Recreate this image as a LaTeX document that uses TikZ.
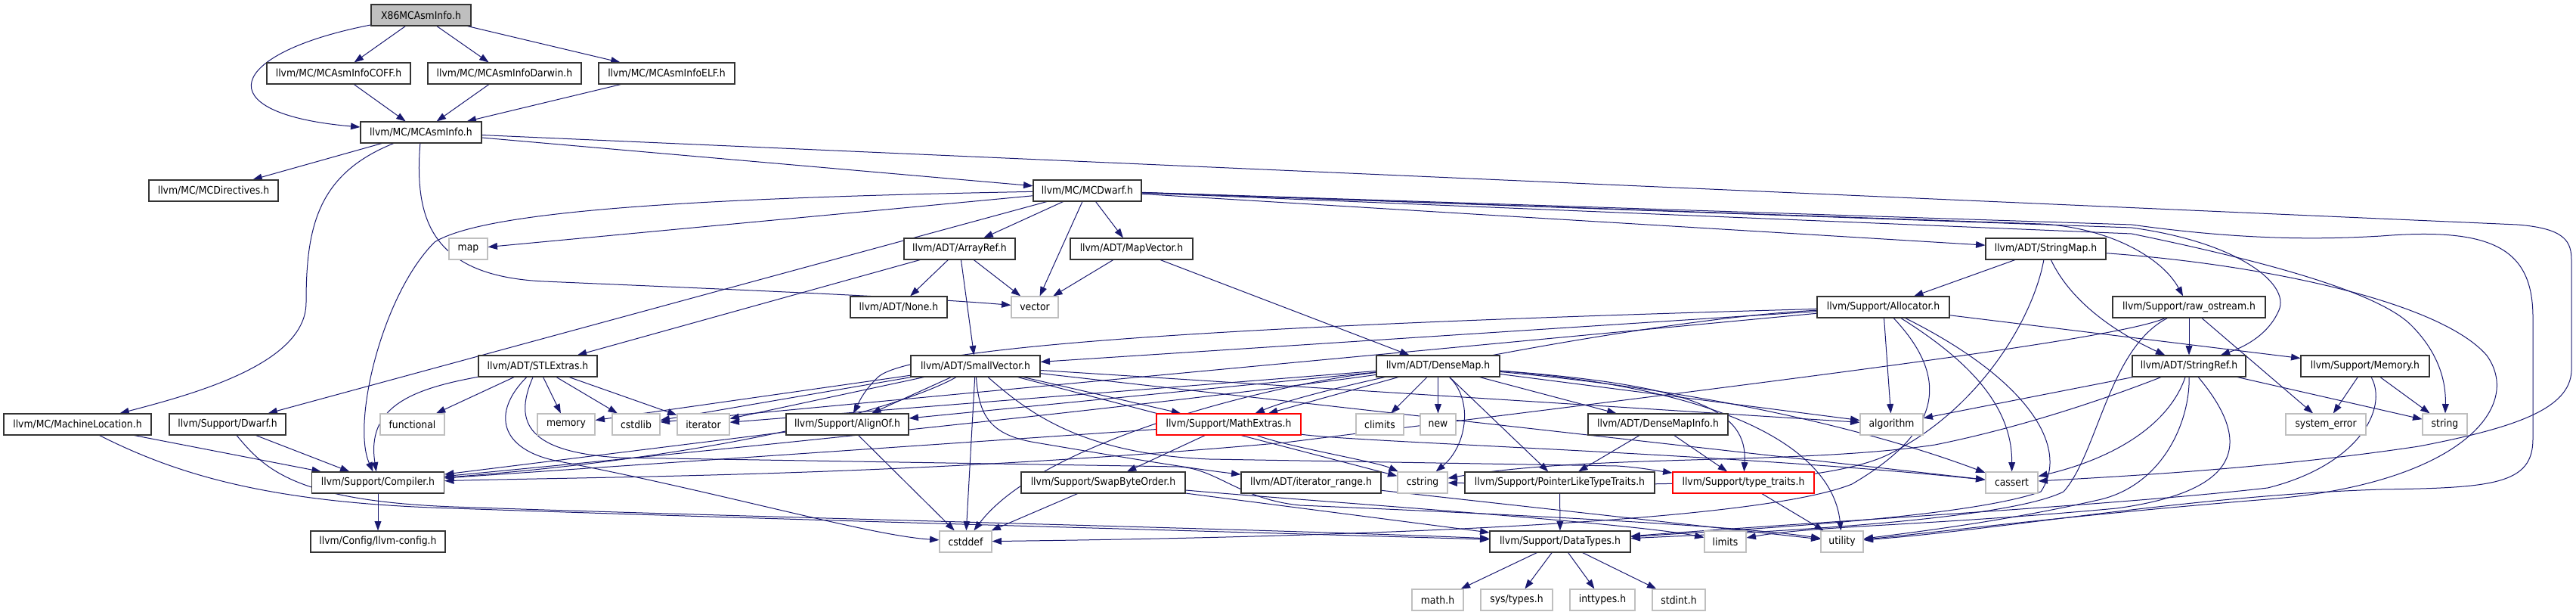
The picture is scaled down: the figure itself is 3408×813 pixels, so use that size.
\documentclass[tikz,border=0pt]{standalone}
\usepackage{fontspec}
\setmainfont{DejaVu Sans Condensed}
\usetikzlibrary{arrows.meta}
\pgfdeclarelayer{bg}
\pgfsetlayers{bg,main}
\definecolor{edgec}{HTML}{191970}
\definecolor{sysc}{HTML}{BFBFBF}
\begin{document}
\begin{tikzpicture}[x=0.5pt,y=-0.5pt,
 hdr/.style={draw=black!80, line width=0.55pt, fill=white, rectangle, inner sep=0pt, minimum height=14pt, font=\fontsize{6.9pt}{8pt}\selectfont, text=black},
 sys/.style={hdr, draw=sysc},
 redb/.style={hdr, draw=red},
 root/.style={hdr, fill=sysc},
 bw/.style={minimum width=#1*0.5pt},
 e/.style={draw=edgec, line width=0.5pt, -{Triangle[length=6.2pt,width=4.4pt]}}
]
\useasboundingbox (0,0) rectangle (3408,813);
% row 0
\node[root,bw=132] (x86) at (557,20) {X86MCAsmInfo.h};
% row 1
\node[hdr,bw=190] (coff) at (448,97) {llvm/MC/MCAsmInfoCOFF.h};
\node[hdr,bw=203] (darwin) at (667.5,97) {llvm/MC/MCAsmInfoDarwin.h};
\node[hdr,bw=180] (elf) at (882,97) {llvm/MC/MCAsmInfoELF.h};
% row 2
\node[hdr,bw=160] (mcai) at (557,175) {llvm/MC/MCAsmInfo.h};
% row 3
\node[hdr,bw=171] (dir) at (282.5,252) {llvm/MC/MCDirectives.h};
\node[hdr,bw=143] (dw) at (1438.5,252) {llvm/MC/MCDwarf.h};
% row 4
\node[sys,bw=51] (map) at (619.5,329) {map};
\node[hdr,bw=147] (ar) at (1269.5,329) {llvm/ADT/ArrayRef.h};
\node[hdr,bw=162] (mv) at (1497,329) {llvm/ADT/MapVector.h};
\node[hdr,bw=159] (sm) at (2706.5,329) {llvm/ADT/StringMap.h};
% row 5
\node[hdr,bw=128] (none) at (1189,406) {llvm/ADT/None.h};
\node[sys,bw=62] (vec) at (1369,406) {vector};
\node[hdr,bw=175] (alloc) at (2491.5,406) {llvm/Support/Allocator.h};
\node[hdr,bw=202] (raw) at (2896,406) {llvm/Support/raw\_ostream.h};
% row 6
\node[hdr,bw=157] (stl) at (711.5,484) {llvm/ADT/STLExtras.h};
\node[hdr,bw=171] (sv) at (1290.5,484) {llvm/ADT/SmallVector.h};
\node[hdr,bw=163] (dm) at (1902.5,484) {llvm/ADT/DenseMap.h};
\node[hdr,bw=150] (sr) at (2896,484) {llvm/ADT/StringRef.h};
\node[hdr,bw=170] (mem) at (3129,484) {llvm/Support/Memory.h};
% row 7
\node[hdr,bw=195] (ml) at (102.5,561) {llvm/MC/MachineLocation.h};
\node[hdr,bw=154] (sdw) at (301,561) {llvm/Support/Dwarf.h};
\node[sys,bw=85] (func) at (545.5,561) {functional};
\node[sys,bw=76] (memory) at (749,561) {memory};
\node[sys,bw=63] (cstdlib) at (841.5,561) {cstdlib};
\node[sys,bw=69] (iter) at (930.5,561) {iterator};
\node[hdr,bw=162] (align) at (1121,561) {llvm/Support/AlignOf.h};
\node[redb,bw=191] (math) at (1625.5,561) {llvm/Support/MathExtras.h};
\node[sys,bw=63] (climits) at (1825.5,561) {climits};
\node[sys,bw=47] (new) at (1902.5,561) {new};
\node[hdr,bw=185] (dmi) at (2193.5,561) {llvm/ADT/DenseMapInfo.h};
\node[sys,bw=83] (algo) at (2502.5,561) {algorithm};
\node[sys,bw=106] (syserr) at (3077,561) {system\_error};
\node[sys,bw=59] (string) at (3234.5,561) {string};
% row 8
\node[hdr,bw=175] (comp) at (500,638) {llvm/Support/Compiler.h};
\node[hdr,bw=217] (swap) at (1459.5,638) {llvm/Support/SwapByteOrder.h};
\node[hdr,bw=185] (ir) at (1734.5,638) {llvm/ADT/iterator\_range.h};
\node[sys,bw=66] (cstring) at (1882,638) {cstring};
\node[hdr,bw=251] (plt) at (2063.5,638) {llvm/Support/PointerLikeTypeTraits.h};
\node[redb,bw=187] (tt) at (2306.5,638) {llvm/Support/type\_traits.h};
\node[sys,bw=69] (cassert) at (2661.5,638) {cassert};
% row 9
\node[hdr,bw=178] (cfg) at (500,716) {llvm/Config/llvm-config.h};
\node[sys,bw=69] (cstddef) at (1277.5,716) {cstddef};
\node[hdr,bw=186] (dt) at (2064,716) {llvm/Support/DataTypes.h};
\node[sys,bw=55] (limits) at (2282.5,716) {limits};
\node[sys,bw=56] (util) at (2437,716) {utility};
% row 10
\node[sys,bw=68] (mathh) at (1902,793) {math.h};
\node[sys,bw=95] (syst) at (2006.5,793) {sys/types.h};
\node[sys,bw=86] (intt) at (2120,793) {inttypes.h};
\node[sys,bw=70] (stdint) at (2221,793) {stdint.h};

% ---- edges ----
\begin{pgfonlayer}{bg}
\draw[e] (x86) -- (coff);
\draw[e] (x86) -- (darwin);
\draw[e] (x86) -- (elf);
\draw[e] (x86) .. controls (300,70) and (270,150) .. (mcai);
\draw[e] (coff) -- (mcai);
\draw[e] (darwin) -- (mcai);
\draw[e] (elf) -- (mcai);
\draw[e] (mcai) -- (dir);
\draw[e] (mcai) -- (dw);
\draw[e] (mcai) .. controls (420,230) and (405,300) .. (405,400) .. controls (405,480) and (260,520) .. (ml);
\draw[e] (mcai) .. controls (548,290) and (570,365) .. (720,372) .. controls (950,382) and (1200,392) .. (vec);
\draw[e] (mcai) -- (3330,297) .. controls (3395,302) and (3402,320) .. (3402,345) -- (3402,490) .. controls (3400,540) and (3330,565) .. (3200,590) .. controls (3000,620) and (2800,630) .. (cassert);
% MCDwarf
\draw[e] (dw) -- (map);
\draw[e] (dw) .. controls (900,262) and (640,280) .. (575,320) .. controls (505,390) and (465,560) .. (comp);
\draw[e] (dw) -- (sdw);
\draw[e] (dw) -- (ar);
\draw[e] (dw) -- (vec);
\draw[e] (dw) -- (mv);
\draw[e] (dw) -- (sm);
\draw[e] (dw) -- (2700,296) .. controls (2790,301) and (2860,340) .. (raw);
\draw[e] (dw) -- (2820,301) .. controls (2960,320) and (3030,375) .. (3015,410) .. controls (3000,445) and (2965,460) .. (sr);
\draw[e] (dw) -- (2820,309) .. controls (3020,350) and (3150,390) .. (3190,430) .. controls (3230,470) and (3236,510) .. (string);
\draw[e] (dw) -- (2820,297) .. controls (2950,315) and (3050,318) .. (3150,312) .. controls (3300,300) and (3351,330) .. (3351,420) -- (3351,580) .. controls (3351,640) and (3300,645) .. (3150,647) .. controls (2900,655) and (2650,700) .. (util);
% ArrayRef, MapVector
\draw[e] (ar) -- (none);
\draw[e] (ar) -- (vec);
\draw[e] (ar) -- (sv);
\draw[e] (ar) -- (stl);
\draw[e] (mv) -- (vec);
\draw[e] (mv) -- (dm);
% StringMap
\draw[e] (sm) -- (alloc);
\draw[e] (sm) .. controls (2740,400) and (2800,440) .. (sr);
\draw[e] (sm) .. controls (2690,420) and (2620,540) .. (2500,600) .. controls (2400,650) and (2100,640) .. (cstring);
\draw[e] (sm) .. controls (3000,350) and (3230,400) .. (3290,470) .. controls (3340,540) and (3250,640) .. (3000,660) .. controls (2750,680) and (2550,705) .. (util);
% Allocator
\draw[e] (alloc) -- (algo);
\draw[e] (alloc) .. controls (2610,480) and (2662,540) .. (cassert);
\draw[e] (alloc) .. controls (2680,500) and (2740,590) .. (2700,650) .. controls (2600,685) and (2300,700) .. (dt);
\draw[e] (alloc) -- (mem);
\draw[e] (alloc) -- (sv);
\draw[e] (alloc) .. controls (1700,428) and (1200,455) .. (1160,500) .. controls (1140,520) and (1135,535) .. (align);
\draw[e] (alloc) .. controls (2200,420) and (1760,505) .. (math);
\draw[e] (alloc) -- (cstdlib);
\draw[e] (alloc) .. controls (2580,500) and (2570,570) .. (2450,640) .. controls (2300,700) and (1600,712) .. (cstddef);
% raw_ostream
\draw[e] (raw) -- (sr);
\draw[e] (raw) -- (syserr);
\draw[e] (raw) .. controls (2800,450) and (2300,510) .. (1700,585) .. controls (1200,630) and (800,630) .. (comp);
\draw[e] (raw) .. controls (2790,460) and (2775,600) .. (2730,650) .. controls (2650,690) and (2300,705) .. (dt);
% STLExtras
\draw[e] (stl) -- (func);
\draw[e] (stl) -- (memory);
\draw[e] (stl) -- (cstdlib);
\draw[e] (stl) -- (iter);
\draw[e] (stl) .. controls (540,515) and (485,540) .. (comp);
\draw[e] (stl) .. controls (650,545) and (660,595) .. (740,610) .. controls (950,650) and (1150,708) .. (cstddef);
\draw[e] (stl) .. controls (678,560) and (700,598) .. (820,605) -- (1560,617) .. controls (1610,620) and (1640,660) .. (1720,668) .. controls (2000,680) and (2300,695) .. (util);
% SmallVector
\draw[e] (sv) -- (align);
\draw[e] (sv) -- (cstddef);
\draw[e] (sv) .. controls (1295,550) and (1310,575) .. (1370,585) .. controls (1500,607) and (1580,620) .. (ir);
\draw[e] (sv) -- (math);
\draw[e] (sv) .. controls (1360,545) and (1430,600) .. (1600,607) -- (2140,616) .. controls (2170,618) and (2190,622) .. (tt);
\draw[e] (sv) -- (cstring);
\draw[e] (sv) -- (algo);
\draw[e] (sv) -- (cassert);
\draw[e] (sv) .. controls (1210,530) and (1000,600) .. (comp);
\draw[e] (sv) -- (memory);
\draw[e] (sv) -- (cstdlib);
\draw[e] (sv) -- (iter);
% DenseMap
\draw[e] (dm) -- (math);
\draw[e] (dm) -- (climits);
\draw[e] (dm) -- (new);
\draw[e] (dm) .. controls (1950,530) and (1940,590) .. (cstring);
\draw[e] (dm) -- (plt);
\draw[e] (dm) -- (dmi);
\draw[e] (dm) -- (algo);
\draw[e] (dm) .. controls (2350,525) and (2560,600) .. (cassert);
\draw[e] (dm) .. controls (2250,510) and (2312,545) .. (tt);
\draw[e] (dm) .. controls (2300,515) and (2425,600) .. (util);
\draw[e] (dm) -- (align);
\draw[e] (dm) -- (iter);
\draw[e] (dm) .. controls (1500,540) and (900,600) .. (comp);
\draw[e] (dm) .. controls (1700,505) and (1380,580) .. (cstddef);
% StringRef
\draw[e] (sr) -- (algo);
\draw[e] (sr) -- (string);
\draw[e] (sr) .. controls (2830,510) and (2700,560) .. (2560,588) .. controls (2380,615) and (2100,600) .. (cstring);
\draw[e] (sr) .. controls (2870,560) and (2800,605) .. (cassert);
\draw[e] (sr) .. controls (2897,560) and (2860,640) .. (2780,660) .. controls (2650,690) and (2520,705) .. (util);
\draw[e] (sr) .. controls (2985,590) and (2960,650) .. (2800,672) .. controls (2550,695) and (2400,695) .. (limits);
% Memory
\draw[e] (mem) -- (syserr);
\draw[e] (mem) -- (string);
\draw[e] (mem) .. controls (3160,540) and (3120,615) .. (3000,645) .. controls (2800,668) and (2400,690) .. (dt);
% MachineLocation, Dwarf
\draw[e] (ml) -- (comp);
\draw[e] (ml) .. controls (230,625) and (350,665) .. (600,672) .. controls (1000,686) and (1700,705) .. (dt);
\draw[e] (sdw) -- (comp);
\draw[e] (sdw) .. controls (350,620) and (390,662) .. (600,670) .. controls (1000,684) and (1700,700) .. (dt);
% AlignOf, MathExtras
\draw[e] (align) -- (comp);
\draw[e] (align) -- (cstddef);
\draw[e] (math) -- (swap);
\draw[e] (math) -- (comp);
\draw[e] (math) .. controls (1700,590) and (1820,610) .. (cstring);
\draw[e] (math) .. controls (1800,585) and (2300,600) .. (cassert);
% row 8
\draw[e] (swap) -- (cstddef);
\draw[e] (swap) -- (dt);
\draw[e] (swap) .. controls (1700,660) and (2150,690) .. (limits);
\draw[e] (ir) -- (util);
\draw[e] (plt) -- (dt);
\draw[e] (dmi) -- (plt);
\draw[e] (dmi) -- (tt);
\draw[e] (tt) -- (util);
\draw[e] (comp) -- (cfg);
\draw[e] (dt) -- (mathh);
\draw[e] (dt) -- (syst);
\draw[e] (dt) -- (intt);
\draw[e] (dt) -- (stdint);
\end{pgfonlayer}
\end{tikzpicture}
\end{document}
